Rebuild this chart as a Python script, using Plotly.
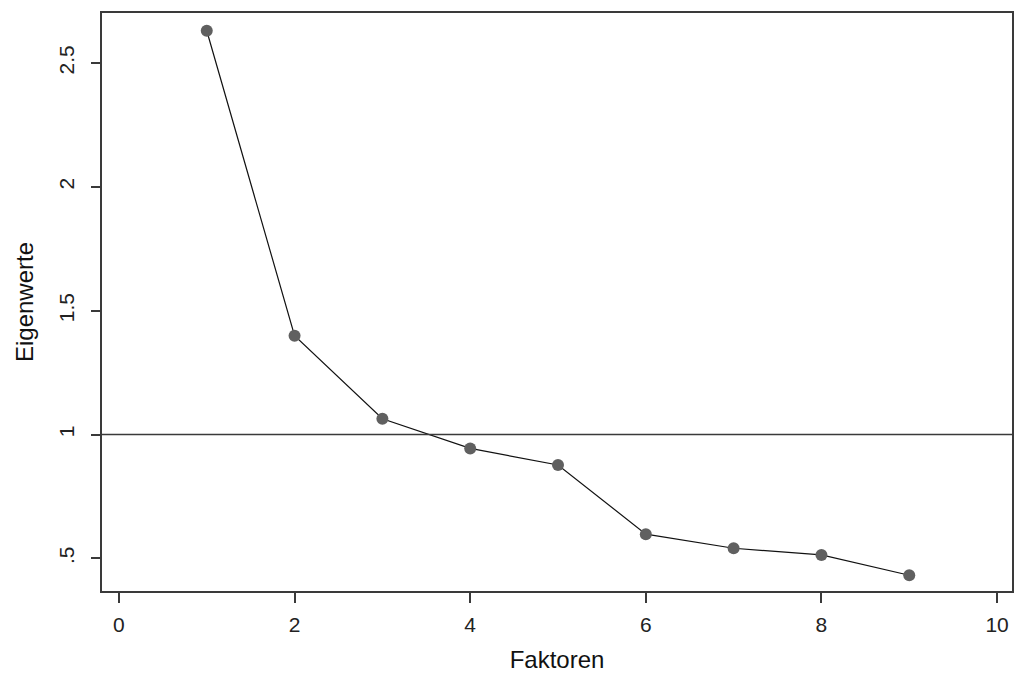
import plotly.graph_objects as go

faktoren = [1, 2, 3, 4, 5, 6, 7, 8, 9]
eigenwerte = [2.630, 1.399, 1.064, 0.944, 0.877, 0.598, 0.541, 0.514, 0.432]
x_ticks = [0, 2, 4, 6, 8, 10]
y_ticks = [0.5, 1, 1.5, 2, 2.5]
y_ticklabels = [".5", "1", "1.5", "2", "2.5"]
ref_line = 1

font_family = "Liberation Sans, Arial, sans-serif"
axis_color = "#3a3a3a"

fig = go.Figure()
fig.add_trace(go.Scatter(
    x=faktoren, y=eigenwerte, mode="lines+markers",
    line=dict(color="#111111", width=1.2),
    marker=dict(color="#606060", size=12, symbol="circle"),
    showlegend=False,
))
fig.add_shape(type="line", xref="paper", yref="y", x0=0, x1=1, y0=ref_line, y1=ref_line,
              line=dict(color=axis_color, width=1.5))

fig.update_layout(
    width=1015, height=673,
    margin=dict(l=102, r=1, t=13, b=80),
    paper_bgcolor="white", plot_bgcolor="white",
    font=dict(family=font_family, color="#222222"),
    xaxis=dict(
        range=[-0.193, 10.17], tickvals=x_ticks, ticks="outside", ticklen=10,
        tickcolor=axis_color, tickwidth=1.5, showgrid=False, zeroline=False,
        showline=True, linecolor=axis_color, linewidth=2, mirror=True,
        tickfont=dict(size=21, family=font_family, color="#222222"),
        ticklabelstandoff=4,
        title=dict(text="Faktoren", font=dict(size=24, family=font_family, color="#111111"), standoff=19),
    ),
    yaxis=dict(
        range=[0.3685, 2.7016], tickvals=y_ticks, ticktext=y_ticklabels, ticks="outside", ticklen=9,
        tickcolor=axis_color, tickwidth=1.5, showgrid=False, zeroline=False,
        showline=True, linecolor=axis_color, linewidth=2, mirror=True,
        tickangle=-90,
        tickfont=dict(size=21, family=font_family, color="#222222"),
        ticklabelstandoff=9,
        title=dict(text="Eigenwerte", font=dict(size=24, family=font_family, color="#111111"), standoff=14),
    ),
)

fig.write_html(
    "out.html",
    config={"displayModeBar": False},
    post_script="document.body.style.margin='0';document.body.style.overflow='hidden';",
)
